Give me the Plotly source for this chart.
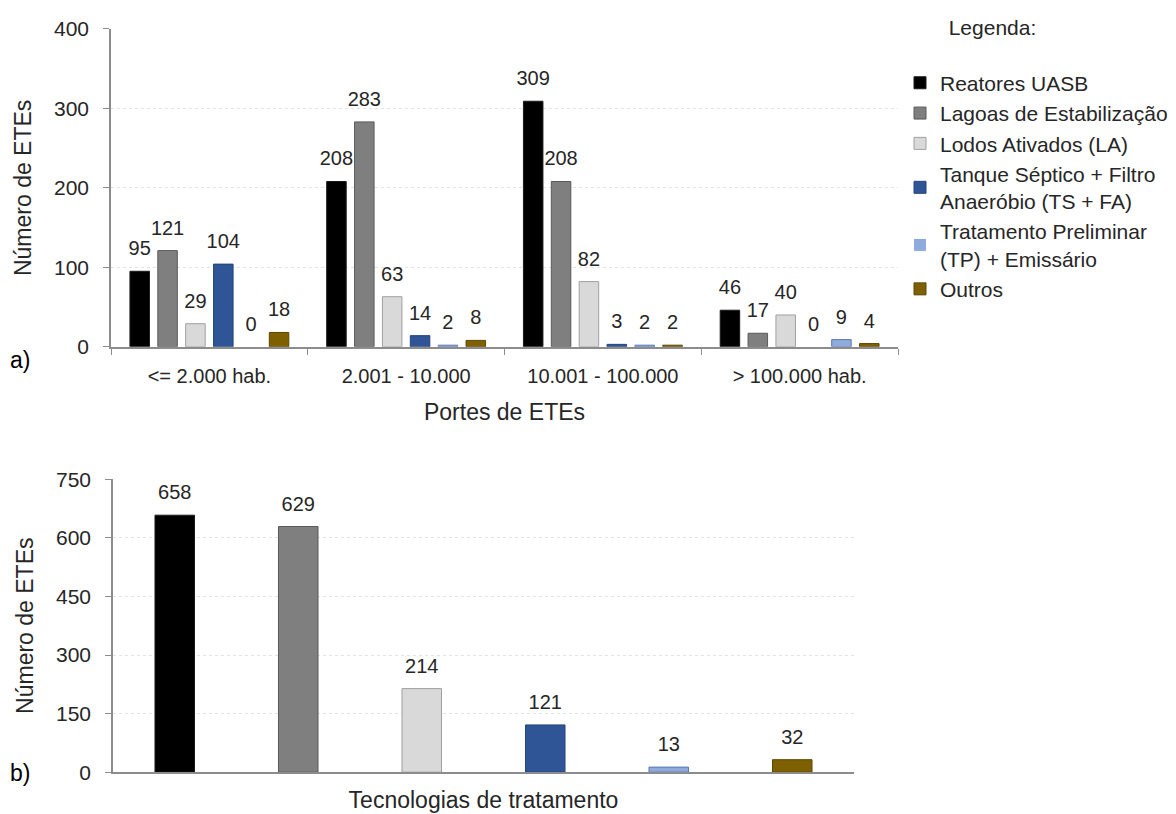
import plotly.graph_objects as go

# ---------------- data ----------------
portes = ["<= 2.000 hab.", "2.001 - 10.000", "10.001 - 100.000", "> 100.000 hab."]
series_names = [
    "Reatores UASB",
    "Lagoas de Estabilização",
    "Lodos Ativados (LA)",
    "Tanque Séptico + Filtro<br>Anaeróbio (TS + FA)",
    "Tratamento Preliminar<br>(TP) + Emissário",
    "Outros",
]
uasb = [95, 208, 309, 46]
lagoas = [121, 283, 208, 17]
lodos = [29, 63, 82, 40]
ts_fa = [104, 14, 3, 0]
tp_emissario = [0, 2, 2, 9]
outros = [18, 8, 2, 4]

tecnologias = ["Reatores UASB", "Lagoas de Estabilização", "Lodos Ativados (LA)",
               "TS + FA", "TP + Emissário", "Outros"]
totais = [658, 629, 214, 121, 13, 32]

y1_ticks = [0, 100, 200, 300, 400]
y2_ticks = [0, 150, 300, 450, 600, 750]

# ---------------- styles ----------------
fills = ["#000000", "#7f7f7f", "#d9d9d9", "#2f5597", "#8faadc", "#7f6000"]
outlines = ["#1a1a1a", "#5a5a5a", "#a0a0a0", "#24447a", "#5a78b0", "#5c4600"]
FONT = "Liberation Sans, Arial, sans-serif"
TXT = "#262626"
LABEL_FONT = dict(size=20, color=TXT, family=FONT)

W, H = 1176, 814
OFF = 8  # page body margin
def px_x(p):
    return (p - OFF) / W
def px_y(p):
    return 1 - (p - OFF) / H

fig = go.Figure()

top_series = [uasb, lagoas, lodos, ts_fa, tp_emissario, outros]
for i, (name, vals, fc, lc) in enumerate(zip(series_names, top_series, fills, outlines)):
    fig.add_trace(go.Bar(
        x=portes, y=vals, name=name, xaxis="x", yaxis="y",
        offsetgroup=str(i),
        marker=dict(color=fc, line=dict(color=lc, width=[0 if v == 0 else 1 for v in vals])),
        hoverinfo="x+y+name",
    ))
for i, vals in enumerate(top_series):
    fig.add_trace(go.Scatter(
        x=portes, y=vals, xaxis="x", yaxis="y", showlegend=False,
        offsetgroup=str(i), mode="markers+text",
        marker=dict(size=16, color="rgba(0,0,0,0)"),
        text=[str(v) for v in vals], textposition="top center",
        textfont=LABEL_FONT, cliponaxis=False, hoverinfo="skip",
    ))

fig.add_trace(go.Bar(
    x=tecnologias, y=totais, xaxis="x2", yaxis="y2", showlegend=False,
    width=0.32,
    marker=dict(color=fills, line=dict(color=outlines, width=1)),
))
fig.add_trace(go.Scatter(
    x=tecnologias, y=totais, xaxis="x2", yaxis="y2", showlegend=False,
    mode="markers+text",
    marker=dict(size=16, color="rgba(0,0,0,0)"),
    text=[str(v) for v in totais], textposition="top center",
    textfont=LABEL_FONT, cliponaxis=False, hoverinfo="skip",
))

def yaxis_common():
    return dict(
        showline=True, linecolor="#8c8c8c", linewidth=1.5,
        ticks="outside", tickcolor="#8c8c8c", ticklen=6,
        tickfont=dict(size=21, color=TXT, family=FONT),
        ticklabelstandoff=10,
        zeroline=False, automargin=False,
        showgrid=True, gridcolor="#e3e3e3", griddash="dot", gridwidth=1,
    )

TITLE_FONT = dict(size=23, color=TXT, family=FONT)
NB = "\u00a0"

fig.update_layout(
    width=W, height=H,
    margin=dict(l=0, r=0, t=0, b=0, pad=0),
    paper_bgcolor="white", plot_bgcolor="white",
    font=dict(family=FONT, color=TXT),
    barmode="group", bargap=0.15, bargroupgap=0.3,
    scattermode="group", scattergap=0.15,
    xaxis=dict(
        domain=[px_x(111), px_x(898)], anchor="y",
        showline=True, linecolor="#8c8c8c", linewidth=1.5,
        ticks="outside", tickcolor="#8c8c8c", ticklen=6,
        tickson="boundaries", ticklabelstandoff=10,
        tickfont=dict(size=20, color=TXT, family=FONT),
        title=dict(text="Portes de ETEs", font=TITLE_FONT, standoff=18),
        showgrid=False, zeroline=False, automargin=False,
    ),
    yaxis=dict(
        domain=[px_y(345), px_y(26)], anchor="x",
        range=[0, 400], tickvals=y1_ticks,
        title=dict(text="Número de ETEs", font=TITLE_FONT, standoff=16),
        **yaxis_common(),
    ),
    xaxis2=dict(
        domain=[px_x(113), px_x(854)], anchor="y2",
        showticklabels=False, ticks="",
        showline=True, linecolor="#8c8c8c", linewidth=1.5, zeroline=False,
        title=dict(text="Tecnologias de tratamento", font=TITLE_FONT, standoff=19),
        showgrid=False, automargin=False,
    ),
    yaxis2=dict(
        domain=[px_y(772), px_y(478)], anchor="x2",
        range=[0, 750], tickvals=y2_ticks,
        title=dict(text="Número de ETEs", font=TITLE_FONT, standoff=16),
        **yaxis_common(),
    ),
    legend=dict(
        x=px_x(900), y=px_y(5), xanchor="left", yanchor="top",
        font=dict(size=21, color=TXT, family=FONT),
        title=dict(text=NB * 8 + "Legenda:<br>", font=dict(size=21, color=TXT, family=FONT)),
        tracegroupgap=0, itemwidth=30, bgcolor="rgba(0,0,0,0)",
    ),
    annotations=[
        dict(text="a)", x=px_x(8), y=px_y(358), xref="paper", yref="paper",
             xanchor="left", yanchor="middle", showarrow=False,
             font=dict(size=23, color="#000", family=FONT)),
        dict(text="b)", x=px_x(8), y=px_y(773), xref="paper", yref="paper",
             xanchor="left", yanchor="middle", showarrow=False,
             font=dict(size=23, color="#000", family=FONT)),
    ],
)

fig.write_html("out.html")
